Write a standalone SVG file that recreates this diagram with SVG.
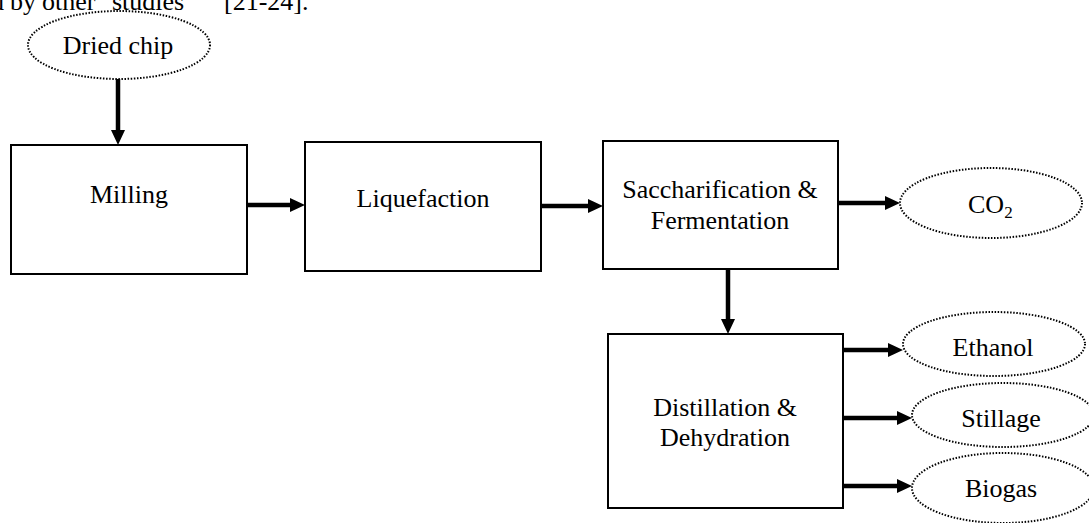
<svg xmlns="http://www.w3.org/2000/svg" width="1089" height="523" viewBox="0 0 1089 523">
<style>
  text { font-family: "Liberation Serif", "Times New Roman", serif; font-size: 26px; fill: #000; }
  .lbl { text-anchor: middle; }
  .box { fill: #fff; stroke: #000; stroke-width: 2; }
  .oval { fill: #fff; stroke: #000; stroke-width: 2; stroke-dasharray: 1.5 1.6; }
  .arr { stroke: #000; stroke-width: 4.5; fill: none; marker-end: url(#head); }
</style>
<defs>
  <marker id="head" viewBox="0 0 15 14" refX="5" refY="7" markerWidth="15" markerHeight="14" markerUnits="userSpaceOnUse" orient="auto">
    <path d="M0,0 L15,7 L0,14 z" fill="#000"/>
  </marker>
</defs>
<rect width="1089" height="523" fill="#fff"/>
<text id="caption-fragment" y="10" font-size="28"><tspan x="-9">d</tspan><tspan x="10">by</tspan><tspan x="42">other</tspan><tspan x="112">studies</tspan><tspan x="224">[21-24].</tspan></text>

<g id="connectors">
  <line class="arr" x1="118" y1="79" x2="118" y2="135"/>
  <line class="arr" x1="247" y1="205" x2="295" y2="205"/>
  <line class="arr" x1="541" y1="206" x2="593" y2="206"/>
  <line class="arr" x1="838" y1="203" x2="890" y2="203"/>
  <line class="arr" x1="728" y1="269" x2="728" y2="324"/>
  <line class="arr" x1="843" y1="350" x2="893" y2="350"/>
  <line class="arr" x1="843" y1="418" x2="902" y2="418"/>
  <line class="arr" x1="843" y1="486" x2="902" y2="486"/>
</g>

<g id="dried-chip">
  <ellipse class="oval" cx="119" cy="45" rx="91" ry="34"/>
  <text class="lbl" x="118" y="54">Dried chip</text>
</g>
<g id="milling">
  <rect class="box" x="11" y="145" width="236" height="129"/>
  <text class="lbl" x="129" y="203">Milling</text>
</g>
<g id="liquefaction">
  <rect class="box" x="305" y="142" width="236" height="129"/>
  <text class="lbl" x="423" y="207">Liquefaction</text>
</g>
<g id="saccharification">
  <rect class="box" x="603" y="141" width="235" height="128"/>
  <text class="lbl" x="720" y="198">Saccharification &amp;</text>
  <text class="lbl" x="720" y="229">Fermentation</text>
</g>
<g id="co2">
  <ellipse class="oval" cx="991" cy="203" rx="91" ry="35"/>
  <text x="968" y="213">CO<tspan font-size="17" dy="5">2</tspan></text>
</g>
<g id="distillation">
  <rect class="box" x="608" y="334" width="235" height="174"/>
  <text class="lbl" x="725" y="416">Distillation &amp;</text>
  <text class="lbl" x="725" y="446">Dehydration</text>
</g>
<g id="ethanol">
  <ellipse class="oval" cx="994" cy="344" rx="91" ry="32"/>
  <text class="lbl" x="993" y="356">Ethanol</text>
</g>
<g id="stillage">
  <ellipse class="oval" cx="1003" cy="415" rx="91" ry="32"/>
  <text class="lbl" x="1001" y="427">Stillage</text>
</g>
<g id="biogas">
  <ellipse class="oval" cx="1003" cy="488" rx="91" ry="35"/>
  <text class="lbl" x="1001" y="497">Biogas</text>
</g>
</svg>
